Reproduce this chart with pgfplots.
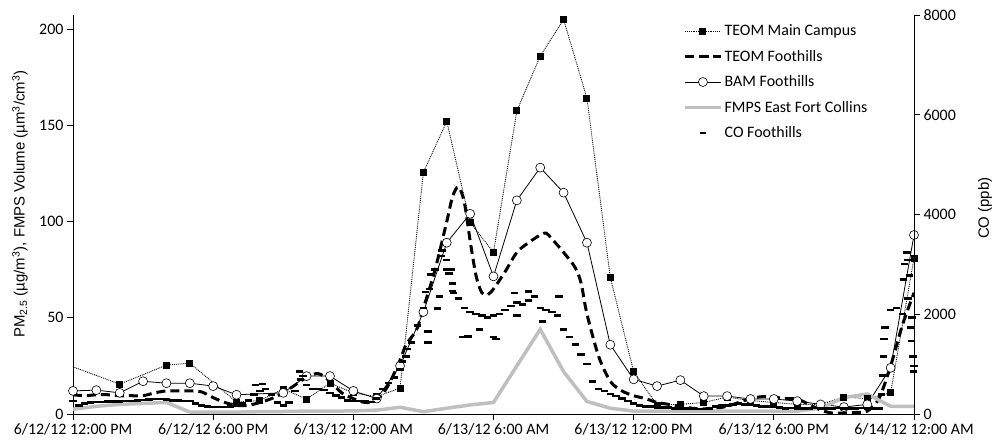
\documentclass[border=0pt]{standalone}
\usepackage{fontspec}
\setmainfont{Carlito}
\newfontfamily\arialfont{Liberation Sans}
\usepackage{pgfplots}
\pgfplotsset{compat=1.18}
\definecolor{fmpsgray}{RGB}{191,191,191}
\pgfplotsset{
  common/.style={
    width=841bp, height=399bp, scale only axis,
    at={(0,0)}, anchor=south west,
    xmin=0, xmax=36,
    tick align=outside, major tick length=6bp,
    axis line style={black, line width=0.8bp},
    tick style={black, line width=0.8bp},
    ticklabel style={font=\fontsize{16}{19}\selectfont},
    /pgf/number format/assume math mode=true,
    /pgf/number format/1000 sep={},
    scaled ticks=false,
  },
  legend image code/.code={\draw[mark repeat=2,mark phase=2,#1] plot coordinates {(0bp,0bp) (18bp,0bp) (36bp,0bp)};},
}
\begin{document}
\begin{tikzpicture}
\useasboundingbox (-73bp,-30bp) rectangle (925bp,414bp);
\begin{axis}[common,
  ymin=0, ymax=207.3, ytick={0,50,...,200},
  axis x line*=bottom, axis y line*=left,
  xtick={0,6,...,36},
  xticklabels={6/12/12 12:00 PM, 6/12/12 6:00 PM, 6/13/12 12:00 AM, 6/13/12 6:00 AM, 6/13/12 12:00 PM, 6/13/12 6:00 PM, 6/14/12 12:00 AM},
  ylabel={PM\textsubscript{2.5} (µg/m\textsuperscript{3}), FMPS Volume (µm\textsuperscript{3}/cm\textsuperscript{3})},
  ylabel style={font={\arialfont\fontsize{15}{18}\selectfont}, at={(axis description cs:-0.063,0.526)}, anchor=center},
  legend style={at={(rel axis cs:0.7253,0.981)}, anchor=north west, draw=none, fill=none,
    font=\fontsize{16}{19}\selectfont, row sep=9bp, inner xsep=0bp, inner ysep=0bp},
  legend cell align=left,
]
\addplot[black, line width=0.9bp, densely dotted, mark=square*, mark size=3bp, mark options={solid, fill=black}] coordinates {
(-1,29)(2,15.5)(4,25.4)(5,26.4)(7,6.2)(8,7)(9,13)(10,7.8)(11,16)(12,11)(13,9)(14,13.5)(15,125.6)(16,152)(17,99.5)(18,84)(19,157.5)(20,186)(21,205)(22,164)(23,71)(24,22)(25,4.7)(26,5)(27,6)(28,8.8)(29,7)(30,6)(31,5)(32,5)(33,8.8)(34,8)(35,11)(36,81)
};
\addlegendentry{TEOM Main Campus}
\addplot[black, line width=3bp, dash pattern=on 9bp off 5bp, smooth] coordinates {
(0,10)(0.5,9.5)(1,10)(1.5,10)(2,9.5)(2.5,9.5)(3,9.5)(3.5,11)(4,12)(4.5,12)(5,12)(5.5,11.5)(6,8.5)(6.5,6)(7,4.5)(7.5,4.5)(8,6)(8.5,8)(9,11)(9.5,15)(10,19)(10.5,21)(11,17)(11.5,11)(12,8)(12.5,6)(13,7)(13.5,15)(14,28)(14.25,36)(14.5,40)(14.75,45)(15,55)(15.5,75)(16,100)(16.25,113)(16.5,118)(16.75,110)(17,90)(17.25,72)(17.5,63)(17.75,62)(18,65)(18.5,74)(19,84)(19.5,89)(20,93)(20.25,94)(20.5,91)(21,84)(21.5,76)(21.75,68)(22,52)(22.5,30)(23,17)(23.5,12)(24,9.5)(24.5,8)(25,6)(25.5,5)(26,4)(26.5,3)(27,2.6)(27.5,3)(28,4)(28.5,6)(29,8)(29.5,9)(30,8.8)(30.5,8)(31,7.8)(31.5,5)(32,2)(32.5,0.5)(33,0.5)(33.5,0.8)(34,1.5)(34.5,8)(35,25)(35.5,46)(36,63)
};
\addlegendentry{TEOM Foothills}
\addplot[black, line width=0.8bp, mark=*, mark size=4.5bp, mark options={fill=white, draw=black, line width=0.6bp}] coordinates {
(0,12)(1,12.4)(2,11)(3,17)(4,16)(5,16)(6,14.5)(7,10)(9,11)(10,19.7)(11,19.7)(12,12)(13,8)(14,25)(15,53)(16,89)(17,104)(18,71.5)(19,111)(20,128)(21,115)(22,89)(23,36)(24,18)(25,14.5)(26,17.6)(27,9.3)(28,9.3)(29,7.8)(30,7.8)(31,6.7)(32,5)(33,3.6)(34,5)(35,24)(36,93)
};
\addlegendentry{BAM Foothills}
\addplot[fmpsgray, line width=3.5bp] coordinates {
(0,2.5)(1,4)(2,5)(3,5.5)(4,6)(5,1)(6,1)(7,1)(8,1.2)(9,1.3)(10,1.5)(11,1.5)(12,1.6)(13,2)(14,3.5)(15,1.2)(16,3)(17,4.7)(18,6)(19,25)(20,44)(21,22)(22,6.5)(23,3)(24,1.5)(25,1.5)(26,1.5)(27,1.5)(28,1.5)(29,1.5)(30,1.5)(31,1.5)(32,3)(33,8.5)(34,10.4)(35,4)(36,4)
};
\addlegendentry{FMPS East Fort Collins}
\addlegendimage{black, only marks, mark=-, mark size=3bp, mark options={line width=2.5bp}}
\addlegendentry{CO Foothills}
\end{axis}
\begin{axis}[common,
  ymin=0, ymax=8000, ytick={0,2000,...,8000},
  axis x line=none, axis y line*=right,
  ylabel={CO (ppb)},
  ylabel style={font={\arialfont\fontsize{15}{18}\selectfont}, at={(axis description cs:1.0844,0.516)}, anchor=center},
]
\addplot[black, only marks, mark=-, mark size=3.7bp, mark options={line width=2.6bp}] coordinates {
(0,259)(0.25,174)(0.5,212)(0.75,232)(1,239)(1.25,239)(1.5,251)(1.75,251)(2,251)(2.25,259)(2.5,259)(2.75,270)(3,278)(3.25,290)(3.5,301)(3.75,301)(4,290)(4.25,270)(4.5,270)(4.75,259)(5,259)(5.25,212)(5.5,174)(5.75,154)(6,139)(6.25,139)(6.5,139)(6.75,154)(7,174)(7.25,212)(7.5,270)(7.75,386)(8,463)(8.25,502)(8.5,386)(8.75,232)(9,174)(9.25,232)(9.5,463)(9.75,695)(10,579)(10.25,502)(10.5,502)(10.75,483)(11,425)(11.25,367)(11.5,328)(11.75,270)(12,259)(12.25,259)(12.5,251)(12.75,239)(13,309)(13.25,502)(13.5,618)(13.75,733)(14,888)(14.25,1158)(14.5,1428)(14.75,1776)(15,2123)(15.25,2509)(15.5,2895)(15.75,3165)(16,2895)(16.25,2470)(16.5,2316)(16.75,2123)(17,2046)(17.25,2007)(17.5,1969)(17.75,1930)(18,1969)(18.25,2007)(18.5,2084)(18.75,2162)(19,2239)(19.25,2200)(19.5,2277)(19.75,2355)(20,2123)(20.25,2084)(20.5,2046)(20.75,1969)(21,1698)(21.25,1544)(21.5,1390)(21.75,1197)(22,1004)(22.25,656)(22.5,502)(22.75,463)(23,405)(23.25,359)(23.5,309)(23.75,259)(24,212)(24.25,174)(24.5,154)(24.75,154)(25,139)(25.25,135)(25.5,127)(25.75,116)(26,116)(26.25,108)(26.5,104)(26.75,100)(27,100)(27.25,116)(27.5,154)(27.75,174)(28,174)(28.25,193)(28.5,212)(28.75,193)(29,193)(29.25,174)(29.5,154)(29.75,147)(30,139)(30.25,125)(30.5,116)(30.75,120)(31,116)(31.25,112)(31.5,116)(31.75,120)(32,116)(32.25,112)(32.5,116)(32.75,120)(33,116)(33.25,112)(33.5,116)(33.75,120)(34,116)(34.25,112)(34.5,116)(34.75,1737)(35,2084)(35.25,2123)(35.5,2007)(35.75,3088)(36,965)
(7.8,578)(8.1,598)(9.7,850)(9.85,760)(14.1,1050)(14.3,1300)(15.1,2450)(15.3,2800)(15.8,3280)(16.0,3090)(16.1,2820)(16.2,2900)(16.25,2620)(16.3,2430)(15.7,2350)(15.6,2120)(15.2,1660)(15.2,1430)(16.7,1540)(17.4,1700)(18.0,1540)(18.1,1500)(18.9,2430)(19.0,1970)(19.5,2460)(20.1,1850)(20.8,2350)(16.9,1550)
(34.6,386)(34.65,772)(34.7,1158)(34.72,1500)(35.55,2700)(35.6,3010)(35.7,3240)(35.75,2316)(35.8,2780)(35.85,1737)(35.9,1467)(35.95,1158)(35.98,850)(35.92,1930)
};
\end{axis}
\end{tikzpicture}
\end{document}
